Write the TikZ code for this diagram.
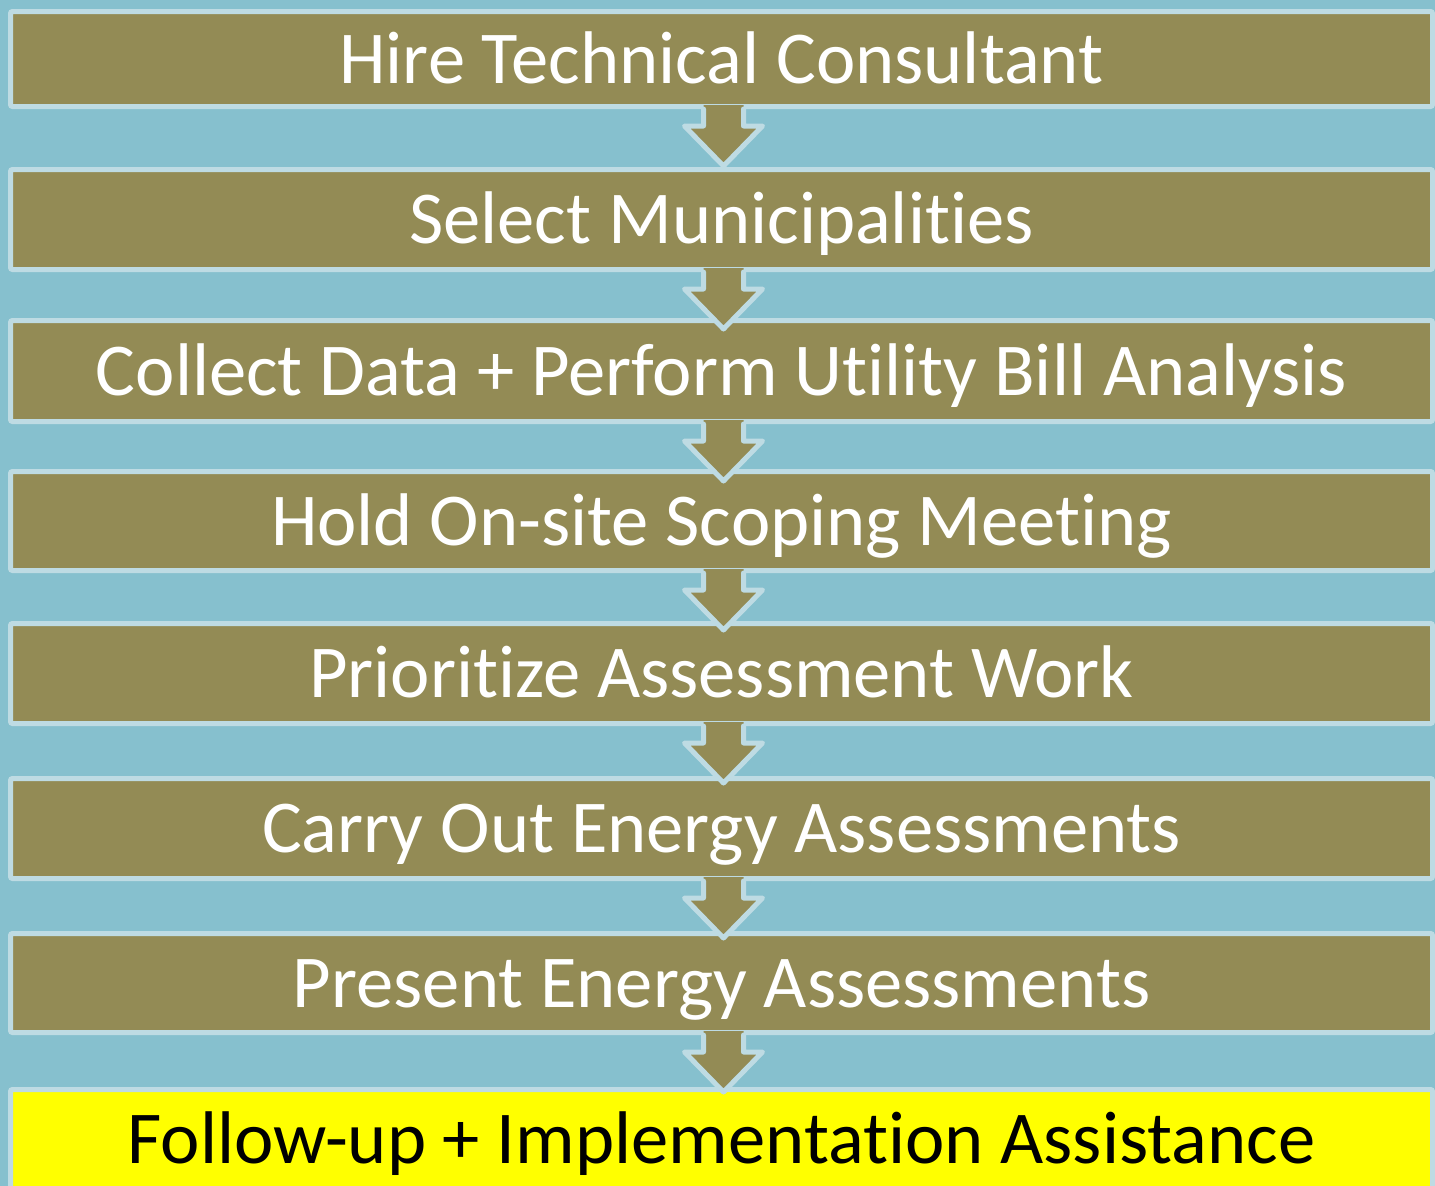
\documentclass[tikz,border=0pt]{standalone}
\usepackage{fontspec}
\setmainfont{Carlito}[Ligatures=NoCommon]
\usetikzlibrary{calc}
\definecolor{bgc}{HTML}{86C0CE}
\definecolor{boxc}{HTML}{938B55}
\definecolor{edgec}{HTML}{BEDBE3}
\definecolor{hilite}{HTML}{FFFF00}
\tikzset{
  stepbox/.style={rectangle, draw=edgec, line width=5pt, fill=boxc, rounded corners=2pt,
    minimum width=1422pt, inner sep=0pt, text height=48pt, text depth=0pt,
    text=white, font=\fontsize{74.6}{80}\selectfont},
  lastbox/.style={stepbox, fill=hilite, text=black},
  arrowfill/.style={fill=boxc},
  arrowedge/.style={draw=edgec, line width=5pt, line join=round, line cap=round},
}
\newcommand{\flowarrow}[2]{%
  \fill[arrowfill] ($(#1.south)+(2,0)+(-20,-4)$) -- ++(0,21) -- ++(-19,0) -- ++(39,40) -- ++(39,-40) -- ++(-19,0) -- ++(0,-21) -- cycle;
  \draw[arrowedge] ($(#1.south)+(2,0)+(-20,0)$) -- ++(0,17) -- ++(-19,0) -- ++(39,40) -- ++(39,-40) -- ++(-19,0) -- ++(0,-17);
}
\begin{document}
\begin{tikzpicture}[x=1pt,y=-1pt]
\useasboundingbox (0,0) rectangle (1435,1186);
\clip (0,0) rectangle (1435,1186);
\fill[bgc] (0,0) rectangle (1435,1186);
\node[stepbox, minimum height=95pt]  (b1) at (721.5,59)    {Hire Technical Consultant};
\node[stepbox, minimum height=100pt] (b2) at (721.5,219.5) {Select Municipalities};
\node[stepbox, minimum height=101pt] (b3) at (721.5,371)   {Collect Data + Perform Utility Bill Analysis};
\node[stepbox, minimum height=99pt]  (b4) at (721.5,521)   {Hold On-site Scoping Meeting};
\node[stepbox, minimum height=100pt] (b5) at (721.5,673.5) {Prioritize Assessment Work};
\node[stepbox, minimum height=100pt] (b6) at (721.5,828.5) {Carry Out Energy Assessments};
\node[stepbox, minimum height=99pt]  (b7) at (721.5,983)   {Present Energy Assessments};
\node[lastbox, minimum height=100pt] (b8) at (721.5,1139.5) {Follow-up + Implementation Assistance};
\flowarrow{b1}{b2}
\flowarrow{b2}{b3}
\flowarrow{b3}{b4}
\flowarrow{b4}{b5}
\flowarrow{b5}{b6}
\flowarrow{b6}{b7}
\flowarrow{b7}{b8}
\end{tikzpicture}
\end{document}
